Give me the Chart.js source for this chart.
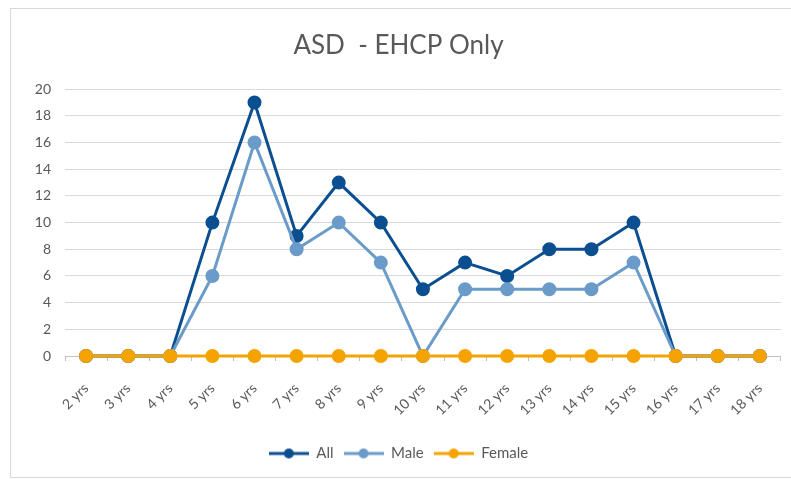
<!DOCTYPE html>
<html>
<head>
<meta charset="utf-8">
<script src="https://cdn.jsdelivr.net/npm/chart.js@4.4.1/dist/chart.umd.min.js"></script>
<style>
  html, body { margin: 0; padding: 0; background: #fff; }
  .frame { position: absolute; left: 10px; top: 8px; width: 790px; height: 470px; border: 1px solid #d9d9d9; box-sizing: border-box; }
  #wrap { position: absolute; left: 0; top: 0; width: 791px; height: 479px; }
</style>
</head>
<body>
<div class="frame"></div>
<div id="wrap"><canvas id="myChart"></canvas></div>
<script>
// Chart data
var ageLabels = ['2 yrs', '3 yrs', '4 yrs', '5 yrs', '6 yrs', '7 yrs', '8 yrs', '9 yrs', '10 yrs',
                 '11 yrs', '12 yrs', '13 yrs', '14 yrs', '15 yrs', '16 yrs', '17 yrs', '18 yrs'];
var allData    = [0, 0, 0, 10, 19, 9, 13, 10, 5, 7, 6, 8, 8, 10, 0, 0, 0];
var maleData   = [0, 0, 0, 6, 16, 8, 10, 7, 0, 5, 5, 5, 5, 7, 0, 0, 0];
var femaleData = [0, 0, 0, 0, 0, 0, 0, 0, 0, 0, 0, 0, 0, 0, 0, 0, 0];
var yTicks = [0, 2, 4, 6, 8, 10, 12, 14, 16, 18, 20];

var textColor = '#595959';
var fontName = 'Lato, "Open Sans", sans-serif';

// little "line with a dot" marker for the legend
function legendMarker(color) {
    var c = document.createElement('canvas');
    c.width = 40;
    c.height = 12;
    var ctx = c.getContext('2d');
    ctx.strokeStyle = color;
    ctx.lineWidth = 3;
    ctx.beginPath();
    ctx.moveTo(0, 6);
    ctx.lineTo(40, 6);
    ctx.stroke();
    ctx.fillStyle = color;
    ctx.beginPath();
    ctx.arc(20, 6, 5, 0, Math.PI * 2);
    ctx.fill();
    return c;
}

function makeSeries(label, data, color, order) {
    return {
        label: label,
        data: data,
        borderColor: color,
        backgroundColor: color,
        pointBackgroundColor: color,
        pointBorderColor: color,
        borderWidth: 3,
        pointRadius: 5.5,
        pointHoverRadius: 5.5,
        tension: 0,
        clip: 10, // don't cut the line sitting on the zero axis in half
        order: order, // lower order is drawn on top (Female last, like Excel)
        marker: legendMarker(color)
    };
}

var ctx = document.getElementById('myChart').getContext('2d');
window.lineChart = new Chart(ctx, {
    type: 'line',
    data: {
        labels: ageLabels,
        datasets: [
            makeSeries('All', allData, '#0b4f91', 3),
            makeSeries('Male', maleData, '#6a9bc9', 2),
            makeSeries('Female', femaleData, '#f4a300', 1)
        ]
    },
    options: {
        responsive: true,
        maintainAspectRatio: false,
        animation: false,
        layout: { padding: { left: 10, right: 4, top: 16, bottom: 8 } },
        plugins: {
            title: {
                display: true,
                text: 'ASD  - EHCP Only',
                color: textColor,
                font: { family: fontName, size: 26, weight: 'normal' },
                padding: { top: 14, bottom: 28 }
            },
            legend: {
                position: 'bottom',
                labels: {
                    color: textColor,
                    font: { family: fontName, size: 15 },
                    usePointStyle: true,
                    pointStyleWidth: 40,
                    boxHeight: 12,
                    padding: 10,
                    generateLabels: function(chart) {
                        return chart.data.datasets.map(function(ds, i) {
                            return {
                                text: ds.label,
                                fontColor: textColor,
                                pointStyle: ds.marker,
                                datasetIndex: i,
                                hidden: false,
                                lineWidth: 0,
                                strokeStyle: ds.borderColor,
                                fillStyle: ds.borderColor
                            };
                        });
                    }
                }
            },
            tooltip: { enabled: false }
        },
        scales: {
            y: {
                min: 0,
                max: 20,
                ticks: {
                    stepSize: 2,
                    color: textColor,
                    font: { family: fontName, size: 14 },
                    padding: 14
                },
                afterBuildTicks: function(axis) {
                    axis.ticks = yTicks.map(function(v) { return { value: v }; });
                },
                afterFit: function(axis) { axis.width = 55; },
                grid: { color: '#d9d9d9', lineWidth: 1, drawTicks: false },
                border: { display: false }
            },
            x: {
                offset: true,
                ticks: {
                    color: textColor,
                    font: { family: fontName, size: 14 },
                    maxRotation: 45,
                    minRotation: 45,
                    autoSkip: false,
                    padding: 19
                },
                afterFit: function(axis) { axis.height = 80; },
                grid: {
                    offset: true,
                    drawOnChartArea: false,
                    drawTicks: true,
                    tickLength: 5,
                    color: '#bfbfbf'
                },
                border: { display: true, color: '#bfbfbf', width: 1 }
            }
        }
    }
});
</script>
</body>
</html>
